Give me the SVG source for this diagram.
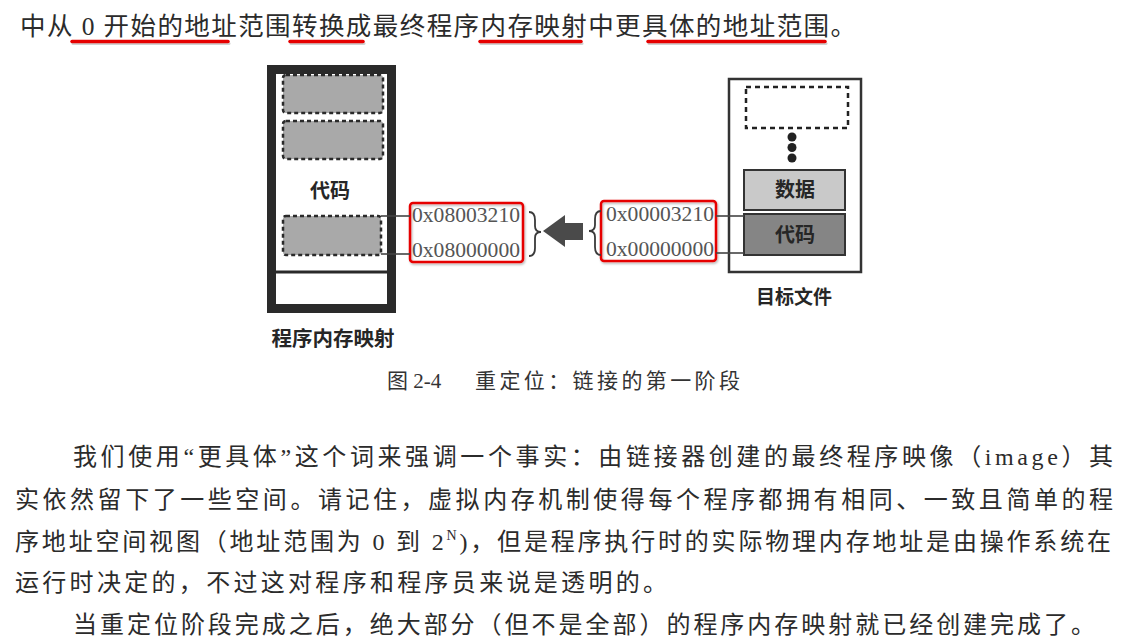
<svg xmlns="http://www.w3.org/2000/svg" width="1127" height="643" viewBox="0 0 1127 643">
<style>
.body{font-family:"Liberation Serif","Noto Sans CJK SC",serif;font-size:24px;fill:#2b2b2b}
.top{font-family:"Liberation Serif","Noto Sans CJK SC",serif;font-size:25.5px;fill:#2b2b2b}
.cap{font-family:"Liberation Serif","Noto Sans CJK SC",serif;font-size:21px;fill:#333}
.lbl{font-family:"Noto Sans CJK SC",sans-serif;font-weight:bold;fill:#262626;text-anchor:middle}
.addr{font-family:"Liberation Serif",serif;font-size:22px;fill:#555}
.red{fill:none;stroke:#e60000;stroke-width:2.5}
.ul{stroke:#e60000;stroke-width:3.5;stroke-linecap:round}
.uls{stroke:#000;stroke-opacity:0.18;stroke-width:3;stroke-linecap:round}
.dash{fill:#a9a9a9;stroke:#2a2a2a;stroke-width:2.5;stroke-dasharray:4 3}
.conn{stroke:#444;stroke-width:1.6;fill:none}
.brace{stroke:#3a3a3a;stroke-width:1.8;fill:none}
</style>
<defs>
<filter id="sh" filterUnits="userSpaceOnUse" x="0" y="0" width="1127" height="643">
<feDropShadow dx="1" dy="1.5" stdDeviation="1" flood-color="#000" flood-opacity="0.3"/>
</filter>
</defs>
<rect width="1127" height="643" fill="#fff"/>

<g id="top-text">
<text class="top" x="20" y="35" textLength="836" lengthAdjust="spacing">中从 0 开始的地址范围转换成最终程序内存映射中更具体的地址范围。</text>
<g id="underlines">
<line class="uls" x1="73" y1="43.5" x2="229" y2="43.5"/>
<line class="uls" x1="291" y1="43.5" x2="364" y2="43.5"/>
<line class="uls" x1="481" y1="43.5" x2="582" y2="43.5"/>
<line class="uls" x1="649" y1="43.5" x2="826" y2="43.5"/>
<line class="ul" x1="72" y1="41.5" x2="228" y2="41.5"/>
<line class="ul" x1="290" y1="41.5" x2="363" y2="41.5"/>
<line class="ul" x1="480" y1="41.5" x2="581" y2="41.5"/>
<line class="ul" x1="648" y1="41.5" x2="825" y2="41.5"/>
</g>
</g>

<g id="program-memory-map">
<rect x="271.5" y="69.5" width="120" height="239" fill="#fff" stroke="#2a2a2a" stroke-width="9"/>
<line x1="276" y1="272" x2="387" y2="272" stroke="#2a2a2a" stroke-width="3"/>
<rect class="dash" x="283" y="75" width="100" height="38" rx="3"/>
<rect class="dash" x="283" y="121" width="100" height="38" rx="3"/>
<text class="lbl" x="330" y="198" font-size="20">代码</text>
<rect class="dash" x="283" y="216" width="98" height="39" rx="3"/>
<text class="lbl" x="333" y="346" font-size="20.5">程序内存映射</text>
</g>

<g id="object-file">
<rect x="729" y="79" width="132" height="193" fill="#fff" stroke="#333" stroke-width="2.5"/>
<rect x="746" y="87" width="102" height="41" fill="none" stroke="#222" stroke-width="2.5" stroke-dasharray="5 4"/>
<circle cx="792" cy="137" r="4.5" fill="#222"/>
<circle cx="792" cy="147.5" r="4.5" fill="#222"/>
<circle cx="792" cy="158" r="4.5" fill="#222"/>
<rect x="744" y="170" width="101" height="40" fill="#c9c9c9" stroke="#333" stroke-width="2"/>
<text class="lbl" x="795" y="197" font-size="20">数据</text>
<rect x="744" y="214" width="101" height="41" fill="#858585" stroke="#333" stroke-width="2"/>
<text class="lbl" x="795" y="242" font-size="20" fill="#1e1e1e">代码</text>
<text class="lbl" x="794" y="304" font-size="19">目标文件</text>
</g>

<g id="final-addresses">
<rect class="red" x="410" y="203" width="113" height="59" rx="3" filter="url(#sh)"/>
<text class="addr" x="412" y="222" textLength="108" lengthAdjust="spacingAndGlyphs">0x08003210</text>
<text class="addr" x="412" y="257" textLength="108" lengthAdjust="spacingAndGlyphs">0x08000000</text>
</g>

<g id="object-addresses">
<rect class="red" x="601" y="201" width="115" height="60" rx="3" filter="url(#sh)"/>
<text class="addr" x="606" y="221" textLength="108" lengthAdjust="spacingAndGlyphs">0x00003210</text>
<text class="addr" x="606" y="256" textLength="108" lengthAdjust="spacingAndGlyphs">0x00000000</text>
</g>

<g id="connectors">
<line class="conn" x1="381" y1="216" x2="410" y2="216"/>
<line class="conn" x1="381" y1="254" x2="410" y2="254"/>
<line class="conn" x1="716" y1="216" x2="744" y2="216"/>
<line class="conn" x1="716" y1="253" x2="744" y2="253"/>
<path class="brace" d="M529,212 Q535,212 535,220 L535,226 Q535,232 541,232 Q535,232 535,238 L535,248 Q535,256 529,256"/>
<path class="brace" d="M601,211 Q595,211 595,219 L595,225 Q595,231 589,231 Q595,231 595,237 L595,247 Q595,255 601,255"/>
<polygon points="543,231 565,215 565,223 583,223 583,240 565,240 565,247" fill="#4a4a4a"/>
</g>

<g id="caption">
<text class="cap" x="387" y="388">图 2-4</text>
<text class="cap" x="475" y="388" textLength="265" lengthAdjust="spacing">重定位：链接的第一阶段</text>
</g>

<g id="body-text">
<text class="body" x="73" y="465" textLength="1040" lengthAdjust="spacing">我们使用“更具体”这个词来强调一个事实：由链接器创建的最终程序映像（image）其</text>
<text class="body" x="15" y="508" textLength="1098" lengthAdjust="spacing">实依然留下了一些空间。请记住，虚拟内存机制使得每个程序都拥有相同、一致且简单的程</text>
<text class="body" x="15" y="550" textLength="1096" lengthAdjust="spacing">序地址空间视图（地址范围为 0 到 2<tspan font-size="14" dy="-10">N</tspan><tspan dy="10">)，但是程序执行时的实际物理内存地址是由操作系统在</tspan></text>
<text class="body" x="15" y="591" textLength="652" lengthAdjust="spacing">运行时决定的，不过这对程序和程序员来说是透明的。</text>
<text class="body" x="73" y="633" textLength="1022" lengthAdjust="spacing">当重定位阶段完成之后，绝大部分（但不是全部）的程序内存映射就已经创建完成了。</text>
</g>
</svg>
